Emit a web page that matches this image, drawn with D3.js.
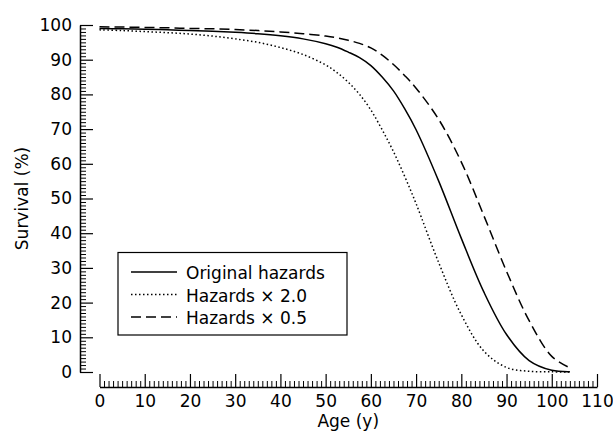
<!DOCTYPE html>
<html>
<head>
<meta charset="utf-8">
<script src="https://cdn.jsdelivr.net/npm/d3@7"></script>
<style>
  body { margin: 0; background: #fff; }
  svg { display: block; }
  .curve { fill: none; stroke: #000; stroke-width: 1.5; }
  .axis text { font-family: "DejaVu Sans", sans-serif; font-size: 17px; fill: #000; }
  .axis path, .axis line { stroke: #000; }
  .label { font-family: "DejaVu Sans", sans-serif; font-size: 17px; fill: #000; }
</style>
</head>
<body>
<svg width="613" height="441"></svg>
<script>
const svg = d3.select("svg");

// age in years
const ages = [0, 5, 10, 15, 20, 25, 30, 35, 40, 45, 50, 52.5, 55, 57.5, 60, 62.5, 65, 67.5, 70, 75, 80, 85, 90, 95, 100, 104];

// survival (%)
const original = [99.0, 98.9, 98.8, 98.6, 98.4, 98.2, 97.9, 97.5, 96.9, 96.0, 94.6, 93.6, 92.2, 90.6, 88.3, 85.0, 81.0, 75.8, 69.8, 55.0, 38.5, 23.0, 10.8, 3.3, 0.5, 0.1];
const hazardsX2 = [98.6, 98.4, 98.1, 97.8, 97.4, 96.8, 96.0, 95.0, 93.5, 91.5, 88.5, 86.3, 83.5, 80.0, 75.5, 69.8, 63.5, 56.3, 48.5, 31.5, 16.5, 6.0, 1.3, 0.2, 0.05, 0.0];
const hazardsX05 = [99.5, 99.4, 99.3, 99.2, 99.0, 98.9, 98.7, 98.4, 98.0, 97.5, 96.8, 96.3, 95.6, 94.7, 93.4, 91.3, 88.6, 85.4, 81.8, 72.8, 60.5, 45.0, 29.0, 14.8, 4.5, 1.2];

const seriesNames = ["Original hazards", "Hazards \u00d7 2.0", "Hazards \u00d7 0.5"];
const dashes = [null, "1.5,2.5", "10,5"];

const xTicks = d3.range(0, 111, 10);
const yTicks = d3.range(0, 101, 10);

const xScale = d3.scaleLinear().domain([0, 110]).range([99.5, 597]);
const yScale = d3.scaleLinear().domain([0, 100]).range([372, 25]);

const yAxisX = 80;
const xAxisY = 387;

// y axis: ticks point inward, labels on the left
svg.append("g")
    .attr("class", "axis")
    .attr("transform", `translate(${yAxisX}, 0)`)
    .call(d3.axisLeft(yScale)
        .tickValues(d3.range(0, 101, 1).filter(d => d % 10 !== 0))
        .tickSizeInner(-6).tickSizeOuter(0).tickFormat(""))
    .call(g => g.select(".domain").remove())
    .selectAll("line").attr("stroke-width", 1);

svg.append("g")
    .attr("class", "axis")
    .attr("transform", `translate(${yAxisX}, 0)`)
    .call(d3.axisLeft(yScale)
        .tickValues(yTicks)
        .tickSizeInner(-13).tickSizeOuter(0).tickPadding(8))
    .call(g => g.attr("font-family", null).attr("font-size", null))
    .call(g => g.select(".domain").attr("stroke-width", 1.5))
    .selectAll("line").attr("stroke-width", 1.2);

// x axis: separated below the plot, ticks point up
svg.append("g")
    .attr("class", "axis")
    .attr("transform", `translate(0, ${xAxisY})`)
    .call(d3.axisBottom(xScale)
        .tickValues(d3.range(0, 111, 1).filter(d => d % 10 !== 0))
        .tickSizeInner(-6).tickSizeOuter(0).tickFormat(""))
    .call(g => g.select(".domain").remove())
    .selectAll("line").attr("stroke-width", 1);

svg.append("g")
    .attr("class", "axis")
    .attr("transform", `translate(0, ${xAxisY})`)
    .call(d3.axisBottom(xScale)
        .tickValues(xTicks)
        .tickSizeInner(-13).tickSizeOuter(0).tickPadding(8))
    .call(g => g.attr("font-family", null).attr("font-size", null))
    .call(g => g.select(".domain").attr("stroke-width", 1.5))
    .selectAll("line").attr("stroke-width", 1.2);

// curves
const line = d3.line()
    .x(d => xScale(d[0]))
    .y(d => yScale(Math.max(0, d[1])))
    .curve(d3.curveCatmullRom.alpha(0.5));

[original, hazardsX2, hazardsX05].forEach(function(values, i) {
    svg.append("path")
        .datum(ages.map((a, j) => [a, values[j]]))
        .attr("class", "curve")
        .attr("stroke-dasharray", dashes[i])
        .attr("d", line);
});

// axis titles
svg.append("text")
    .attr("class", "label")
    .attr("x", xScale(55))
    .attr("y", 427)
    .attr("text-anchor", "middle")
    .text("Age (y)");

svg.append("text")
    .attr("class", "label")
    .attr("transform", "rotate(-90)")
    .attr("x", -yScale(50))
    .attr("y", 28)
    .attr("text-anchor", "middle")
    .text("Survival (%)");

// legend
const legend = svg.append("g");

legend.append("rect")
    .attr("x", 118)
    .attr("y", 252.5)
    .attr("width", 229)
    .attr("height", 82.5)
    .attr("fill", "#fff")
    .attr("stroke", "#000")
    .attr("stroke-width", 1.2);

seriesNames.forEach(function(name, i) {
    const yy = 279 + i * 22.5;
    legend.append("line")
        .attr("class", "curve")
        .attr("x1", 131).attr("x2", 177)
        .attr("y1", yy - 7).attr("y2", yy - 7)
        .attr("stroke-dasharray", dashes[i]);
    legend.append("text")
        .attr("class", "label")
        .attr("x", 186)
        .attr("y", yy)
        .attr("font-size", "17.5px")
        .text(name);
});
</script>
</body>
</html>
